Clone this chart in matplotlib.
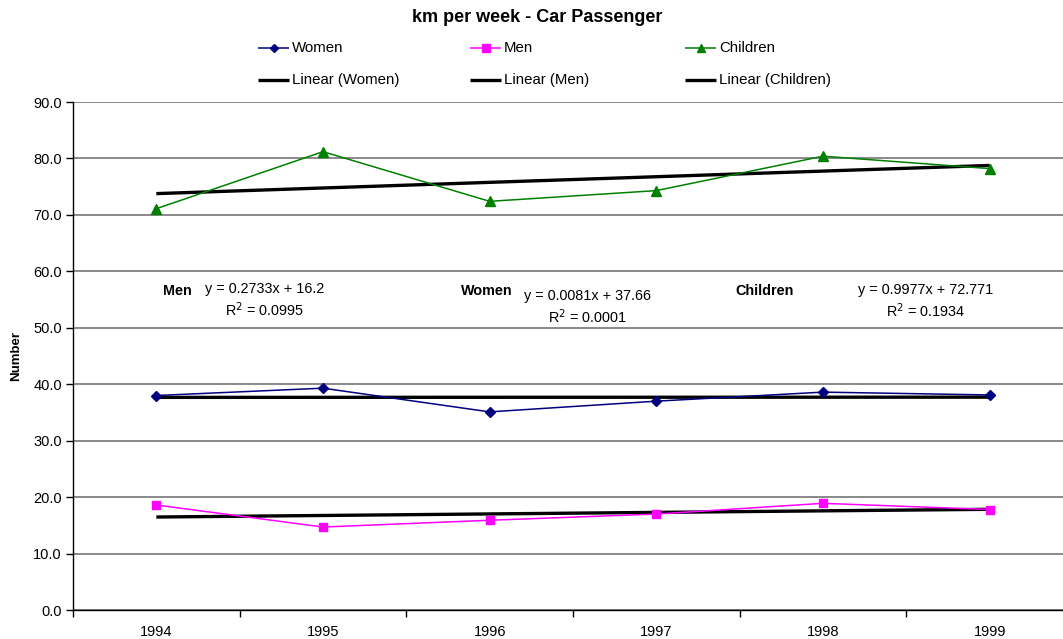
import numpy as np
import matplotlib
matplotlib.use("Agg")
import matplotlib.pyplot as plt
from matplotlib.lines import Line2D

plt.rcParams['font.family'] = ['Liberation Sans', 'DejaVu Sans']

# Data
years = ['1994', '1995', '1996', '1997', '1998', '1999']
women = [38.0, 39.3, 35.1, 37.0, 38.6, 38.1]
men = [18.6, 14.7, 15.9, 17.0, 18.9, 17.8]
children = [71.1, 81.2, 72.4, 74.3, 80.4, 78.2]

# Linear trend coefficients (x = 1..6) and fit quality
trend_names = ['Men', 'Women', 'Children']
trend_slopes = [0.2733, 0.0081, 0.9977]
trend_intercepts = [16.2, 37.66, 72.771]
trend_r2 = [0.0995, 0.0001, 0.1934]
trend_slope_fmt = ['0.2733', '0.0081', '0.9977']
trend_icpt_fmt = ['16.2', '37.66', '72.771']
trend_r2_fmt = ['0.0995', '0.0001', '0.1934']

fig = plt.figure(figsize=(10.63, 6.39), dpi=100)
ax = fig.add_axes([73 / 1063, 29 / 639, 1000 / 1063, 508 / 639])

x = np.arange(len(years))
series = [
    ('Women', women, '#000080', 'D', 5.2),
    ('Men', men, '#FF00FF', 's', 5.8),
    ('Children', children, '#008000', '^', 6.5),
]
for name, vals, col, mk, ms in series:
    ax.plot(x, vals, color=col, lw=1.1, marker=mk, ms=ms, mec=col, mfc=col, zorder=4)

# Trend lines from the fitted equations
xt = x + 1
for name in ['Women', 'Men', 'Children']:
    i = trend_names.index(name)
    ax.plot(x, trend_slopes[i] * xt + trend_intercepts[i], color='black', lw=2.4,
            solid_capstyle='butt', zorder=3)

ax.set_xlim(-0.5, 5.5)
ax.set_ylim(0, 90)
ax.set_yticks(np.arange(0, 91, 10))
ax.set_yticklabels([f'{v:.1f}' for v in np.arange(0, 91, 10)])
ax.set_xticks(x)
ax.set_xticklabels(years)
ax.set_xticks(np.arange(-0.5, 5.6, 1), minor=True)
ax.tick_params(axis='x', which='major', length=0, pad=10.5, labelsize=10.5)
ax.tick_params(axis='x', which='minor', length=5, direction='out', width=1)
ax.tick_params(axis='y', length=5, direction='out', width=1, labelsize=10.5, pad=3)
ax.yaxis.grid(True, color='#808080', lw=1.3)
ax.set_axisbelow(True)
for s in ['top', 'right']:
    ax.spines[s].set_visible(False)
for s in ['left', 'bottom']:
    ax.spines[s].set_color('black')
    ax.spines[s].set_linewidth(1)

ax.set_ylabel('Number', fontweight='bold', fontsize=9.5, labelpad=8)

fig.text(537 / 1063, 1 - 18 / 639, 'km per week - Car Passenger', ha='center', va='center',
         fontsize=13, fontweight='bold')

# Trend equation annotations
def px2data(px, py):
    return (px - 157) / 166.7, (610 - py) / 5.644

name_pos = {'Men': (178, 291), 'Women': (488, 291), 'Children': (765, 291)}
eq_pos = {'Men': (265, 289), 'Women': (588, 296), 'Children': (926, 290)}
for i, name in enumerate(trend_names):
    nx, ny = px2data(*name_pos[name])
    ax.text(nx, ny, name, ha='center', va='center', fontsize=10.4, fontweight='bold')
    ex, ey = px2data(*eq_pos[name])
    ax.text(ex, ey, f'y = {trend_slope_fmt[i]}x + {trend_icpt_fmt[i]}', ha='center',
            va='center', fontsize=10.4)
    ax.text(ex, ey - 21 / 5.644, f'R$^2$ = {trend_r2_fmt[i]}', ha='center', va='center',
            fontsize=10.4)

# Legend drawn in two rows
W, H = 1063, 639
legend_items = [
    (258, 48, 'Women', '#000080', 'D', 4.5, 1.1),
    (470, 48, 'Men', '#FF00FF', 's', 5.5, 1.1),
    (685, 48, 'Children', '#008000', '^', 6, 1.1),
    (258, 80, 'Linear (Women)', 'black', None, 0, 2.4),
    (470, 80, 'Linear (Men)', 'black', None, 0, 2.4),
    (685, 80, 'Linear (Children)', 'black', None, 0, 2.4),
]
for lx, ly, label, col, mk, ms, lw in legend_items:
    fy = 1 - ly / H
    fig.add_artist(Line2D([lx / W, (lx + 31) / W], [fy, fy], color=col, lw=lw,
                          solid_capstyle='butt'))
    if mk:
        fig.add_artist(Line2D([(lx + 15.5) / W], [fy], color=col, marker=mk, ms=ms,
                              mec=col, mfc=col, lw=0))
    fig.text((lx + 34) / W, fy, label, ha='left', va='center', fontsize=10.8)

fig.savefig('out.png', dpi=100)
